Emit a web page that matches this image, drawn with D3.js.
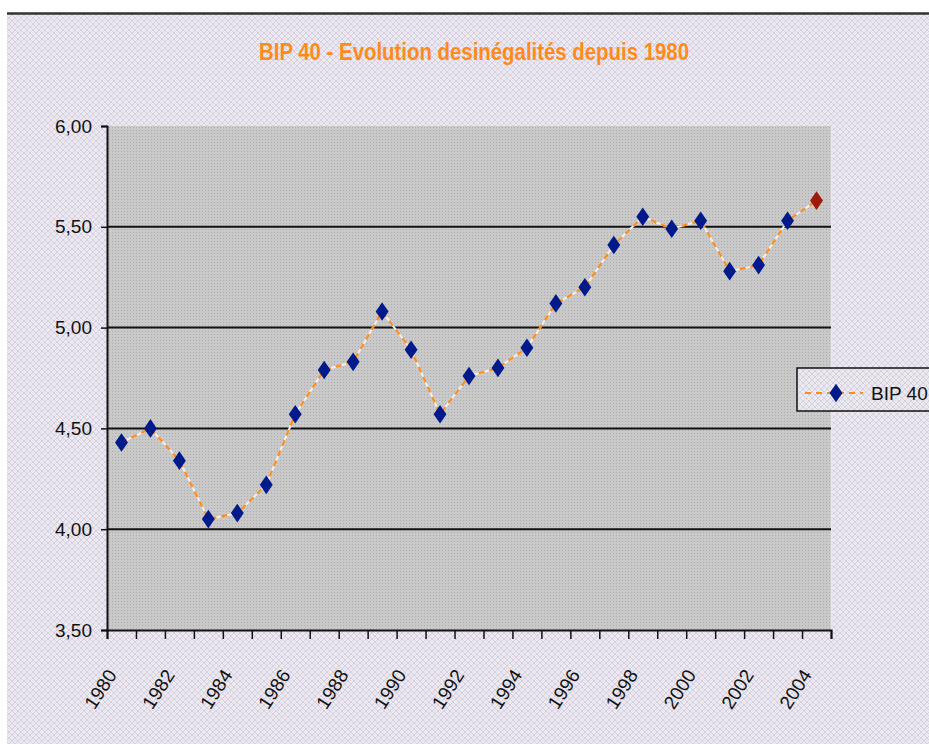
<!DOCTYPE html>
<html>
<head>
<meta charset="utf-8">
<script src="https://cdn.jsdelivr.net/npm/d3@7"></script>
<style>
  html, body { margin: 0; padding: 0; background: #ffffff; }
  svg { display: block; }
</style>
</head>
<body>
<div id="chart"></div>
<script>

var years = ["1980","1981","1982","1983","1984","1985","1986","1987","1988","1989",
             "1990","1991","1992","1993","1994","1995","1996","1997","1998","1999",
             "2000","2001","2002","2003","2004"];
var bip40 = [4.43, 4.50, 4.34, 4.05, 4.08, 4.22, 4.57, 4.79, 4.83, 5.08,
             4.89, 4.57, 4.76, 4.80, 4.90, 5.12, 5.20, 5.41, 5.55, 5.49,
             5.53, 5.28, 5.31, 5.53, 5.63];
var yTicks = [3.5, 4.0, 4.5, 5.0, 5.5, 6.0];
var yGrid = [4.0, 4.5, 5.0, 5.5];
var yearLabels = ["1980","1982","1984","1986","1988","1990","1992","1994","1996","1998","2000","2002","2004"];
var seriesName = "BIP 40";
var title = "BIP 40 - Evolution desinégalités depuis 1980";

var width = 929, height = 744;
var plot = {left: 107, right: 831, top: 126, bottom: 630};

var svg = d3.select("#chart").append("svg")
  .attr("width", width)
  .attr("height", height);

var defs = svg.append("defs");

// outer background pattern (light lavender diamonds)
var pOut = defs.append("pattern")
  .attr("id", "bgOut").attr("width", 6).attr("height", 6)
  .attr("patternUnits", "userSpaceOnUse");
pOut.append("rect").attr("width", 6).attr("height", 6).attr("fill", "#eceaf0");
pOut.append("path").attr("d", "M3,0L6,3L3,6L0,3Z").attr("fill", "none")
  .attr("stroke", "#d4d1df").attr("stroke-width", 1);
pOut.append("rect").attr("x", 2).attr("y", 2).attr("width", 1).attr("height", 1).attr("fill", "#e4d4e8");

// plot area pattern (grey with dot grid)
var pIn = defs.append("pattern")
  .attr("id", "bgIn").attr("width", 3).attr("height", 3)
  .attr("patternUnits", "userSpaceOnUse");
pIn.append("rect").attr("width", 3).attr("height", 3).attr("fill", "#c9c9c9");
pIn.append("rect").attr("x", 1).attr("y", 1).attr("width", 1).attr("height", 1).attr("fill", "#adadad");

svg.append("rect")
  .attr("x", 7).attr("y", 14).attr("width", width - 7).attr("height", height - 14)
  .attr("fill", "url(#bgOut)");
svg.append("line")
  .attr("x1", 7).attr("x2", width).attr("y1", 13.5).attr("y2", 13.5)
  .attr("stroke", "#333").attr("stroke-width", 2.5);

// title
svg.append("text")
  .attr("x", 474).attr("y", 60)
  .attr("text-anchor", "middle")
  .attr("font-family", "'Liberation Sans Narrow', 'Liberation Sans', Arial, sans-serif")
  .attr("font-weight", "bold")
  .attr("font-size", "23px")
  .attr("fill", "#ff8a1c")
  .attr("textLength", 430)
  .attr("lengthAdjust", "spacingAndGlyphs")
  .text(title);

// scales
var x = d3.scaleBand().domain(years).range([plot.left, plot.right]).padding(0);
var xEdge = d3.scaleLinear().domain([0, years.length]).range([plot.left, plot.right]);
var y = d3.scaleLinear().domain([3.5, 6]).range([plot.bottom, plot.top]);

// plot area
svg.append("rect")
  .attr("x", plot.left).attr("y", plot.top)
  .attr("width", plot.right - plot.left).attr("height", plot.bottom - plot.top)
  .attr("fill", "url(#bgIn)");
svg.append("line")
  .attr("x1", plot.right + 0.5).attr("x2", plot.right + 0.5)
  .attr("y1", plot.top).attr("y2", plot.bottom)
  .attr("stroke", "#e8e8e8").attr("stroke-width", 1.5);

// gridlines
svg.selectAll(".grid")
  .data(yGrid)
  .enter().append("line")
  .attr("class", "grid")
  .attr("x1", plot.left).attr("x2", plot.right)
  .attr("y1", function(d) { return y(d); })
  .attr("y2", function(d) { return y(d); })
  .attr("stroke", "#111").attr("stroke-width", 2);

// y axis
var fmt = d3.format(".2f");
var yAxis = d3.axisLeft(y)
  .tickValues(yTicks)
  .tickSize(6)
  .tickPadding(9)
  .tickFormat(function(d) { return fmt(d).replace(".", ","); });

var yAxisGroup = svg.append("g")
  .attr("transform", "translate(" + plot.left + ",0)")
  .call(yAxis);
yAxisGroup.select(".domain").attr("stroke", "#111").attr("stroke-width", 2);
yAxisGroup.selectAll(".tick line").attr("stroke", "#111").attr("stroke-width", 1.5);
yAxisGroup.selectAll(".tick text")
  .attr("font-family", "'Liberation Sans', Arial, sans-serif")
  .attr("font-size", "19px")
  .attr("fill", "#111");

// x axis (ticks on category edges)
var xAxis = d3.axisBottom(xEdge)
  .tickValues(d3.range(years.length + 1))
  .tickSize(9)
  .tickFormat("");

var xAxisGroup = svg.append("g")
  .attr("transform", "translate(0," + plot.bottom + ")")
  .call(xAxis);
xAxisGroup.select(".domain").attr("stroke", "#111").attr("stroke-width", 2);
xAxisGroup.selectAll(".tick line").attr("stroke", "#111").attr("stroke-width", 1.5);

svg.selectAll(".xlabel")
  .data(yearLabels)
  .enter().append("text")
  .attr("class", "xlabel")
  .attr("transform", function(d) {
    return "translate(" + (x(d) + x.bandwidth() / 2 - 4) + "," + (plot.bottom + 45) + ") rotate(-57)";
  })
  .attr("text-anchor", "end")
  .attr("font-family", "'Liberation Sans', Arial, sans-serif")
  .attr("font-size", "19px")
  .attr("fill", "#111")
  .text(function(d) { return d; });

// line
var line = d3.line()
  .x(function(d, i) { return x(years[i]) + x.bandwidth() / 2; })
  .y(function(d) { return y(d); });

svg.append("path")
  .datum(bip40)
  .attr("d", line)
  .attr("fill", "none")
  .attr("stroke", "#f0f0f0")
  .attr("stroke-width", 2);
svg.append("path")
  .datum(bip40)
  .attr("d", line)
  .attr("fill", "none")
  .attr("stroke", "#ff8c1a")
  .attr("stroke-width", 2.2)
  .attr("stroke-dasharray", "6,5");

// markers
var diamond = d3.symbol().type(d3.symbolDiamond).size(100);
svg.selectAll(".pt")
  .data(bip40)
  .enter().append("path")
  .attr("class", "pt")
  .attr("d", diamond)
  .attr("transform", function(d, i) {
    return "translate(" + (x(years[i]) + x.bandwidth() / 2) + "," + y(d) + ") scale(1.2,1)";
  })
  .attr("fill", function(d, i) { return i === bip40.length - 1 ? "#9e1a0c" : "#001a8c"; });

// legend
var legend = svg.append("g").attr("transform", "translate(797,368)");
legend.append("rect")
  .attr("x", 0).attr("y", 0).attr("width", 150).attr("height", 43)
  .attr("fill", "url(#bgOut)")
  .attr("stroke", "#111").attr("stroke-width", 1.5);
legend.append("line")
  .attr("x1", 8).attr("x2", 66).attr("y1", 25).attr("y2", 25)
  .attr("stroke", "#ff8c1a").attr("stroke-width", 2.2)
  .attr("stroke-dasharray", "6,5");
legend.append("path")
  .attr("d", diamond)
  .attr("transform", "translate(39,25) scale(1.2,1)")
  .attr("fill", "#001a8c");
legend.append("text")
  .attr("x", 74).attr("y", 32)
  .attr("font-family", "'Liberation Sans', Arial, sans-serif")
  .attr("font-size", "19px")
  .attr("fill", "#111")
  .text(seriesName);

</script>
</body>
</html>
